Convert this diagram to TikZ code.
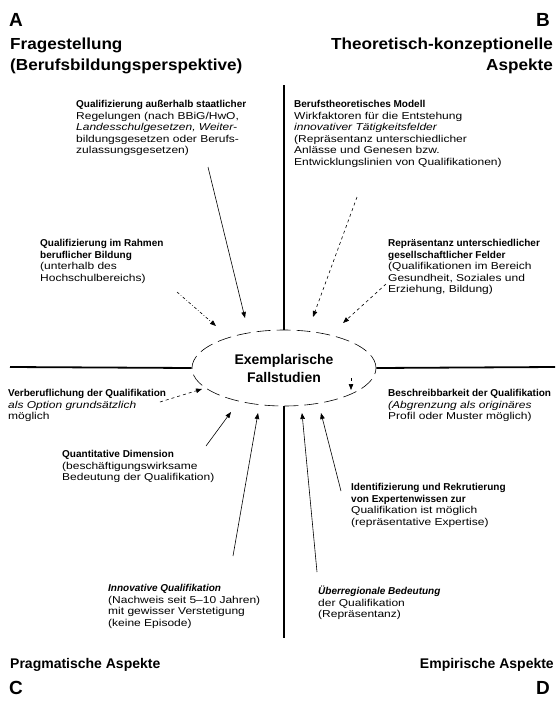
\documentclass[tikz,border=0pt]{standalone}
\usepackage{fontspec}
\setmainfont{Liberation Sans}
\newfontfamily\widefont{Liberation Sans}[FakeStretch=1.2, Ligatures=TeX]
\newfontfamily\headfont{Liberation Sans}[FakeStretch=1.07, Ligatures=TeX]
\newcommand{\boldline}[1]{{\normalfont\bfseries #1}}
\usetikzlibrary{shapes.geometric,arrows.meta}

\begin{document}
\begin{tikzpicture}[x=1pt, y=-1pt,
    corner/.style={font=\fontsize{19}{19}\selectfont\bfseries, inner sep=0},
    head/.style={font=\headfont\fontsize{16}{21}\selectfont\bfseries, inner sep=0},
    foot/.style={font=\fontsize{14}{14}\selectfont\bfseries, inner sep=0},
    txt/.style={font=\widefont\fontsize{10}{11.6}\selectfont, align=left, inner sep=0, anchor=north west},
    axis/.style={line width=1.8pt},
    arr/.style={-{Triangle[length=6pt, width=4.5pt]}, line width=0.6pt}]

    \useasboundingbox (0, 0) rectangle (558, 702);

    \node[corner, anchor=west] (ca) at (9, 20) {A};
    \node[corner, anchor=east] (cb) at (550, 20) {B};
    \node[corner, anchor=west] (cc) at (9, 688) {C};
    \node[corner, anchor=east] (cd) at (550, 688) {D};

    \node[head, anchor=north west, align=left] (ha) at (10, 38) {Fragestellung\\(Berufsbildungsperspektive)};
    \node[head, anchor=north east, align=right] (hb) at (553, 38) {Theoretisch-konzeptionelle\\Aspekte};
    \node[foot, anchor=west] (hc) at (10, 665) {Pragmatische Aspekte};
    \node[foot, anchor=east] (hd) at (554, 665) {Empirische Aspekte};

    \node[ellipse, draw, dash pattern=on 14pt off 6pt, line width=0.6pt, minimum width=184, minimum height=76,
        align=center, font=\fontsize{14}{18}\selectfont\bfseries] (fall) at (284, 368) {Exemplarische\\Fallstudien};

    \coordinate (top) at (284, 85);
    \coordinate (bottom) at (284, 638);
    \coordinate (left) at (10, 367);
    \coordinate (right) at (555, 367);

    \draw[axis] (top) -- (fall.north);
    \draw[axis] (fall.south) -- (bottom);
    \draw[axis] (left) -- (fall.west);
    \draw[axis] (fall.east) -- (right);

    \node[txt] (qa) at (76, 100) {\boldline{Qualifizierung außerhalb staatlicher}\\Regelungen (nach BBiG/HwO,\\\textit{Landesschulgesetzen, Weiter-}\\bildungsgesetzen oder Berufs-\\zulassungsgesetzen)};
    \node[txt] (qb) at (40, 239) {\boldline{Qualifizierung im Rahmen}\\\boldline{beruflicher Bildung}\\(unterhalb des\\Hochschulbereichs)};
    \node[txt] (qc) at (8, 389) {\boldline{Verberuflichung der Qualifikation}\\\textit{als Option grundsätzlich}\\möglich};
    \node[txt] (qd) at (62, 450) {\boldline{Quantitative Dimension}\\(beschäftigungswirksame\\Bedeutung der Qualifikation)};
    \node[txt] (qe) at (108, 584) {\boldline{\itshape Innovative Qualifikation}\\(Nachweis seit 5–10 Jahren)\\mit gewisser Verstetigung\\(keine Episode)};
    \node[txt] (qf) at (294, 100) {\boldline{Berufstheoretisches Modell}\\Wirkfaktoren für die Entstehung\\\textit{innovativer Tätigkeitsfelder}\\(Repräsentanz unterschiedlicher\\Anlässe und Genesen bzw.\\Entwicklungslinien von Qualifikationen)};
    \node[txt] (qg) at (388, 239) {\boldline{Repräsentanz unterschiedlicher}\\\boldline{gesellschaftlicher Felder}\\(Qualifikationen im Bereich\\Gesundheit, Soziales und\\Erziehung, Bildung)};
    \node[txt] (qh) at (388, 389) {\boldline{Beschreibbarkeit der Qualifikation}\\\textit{(Abgrenzung als originäres}\\Profil oder Muster möglich)};
    \node[txt] (qi) at (351, 483) {\boldline{Identifizierung und Rekrutierung}\\\boldline{von Expertenwissen zur}\\Qualifikation ist möglich\\(repräsentative Expertise)};
    \node[txt] (qj) at (318, 586) {\boldline{\itshape Überregionale Bedeutung}\\der Qualifikation\\(Repräsentanz)};

    \coordinate (qa-out) at (208, 167);
    \coordinate (qa-in) at (245, 318);
    \coordinate (qb-out) at (177, 292);
    \coordinate (qb-in) at (216, 326);
    \coordinate (qc-out) at (160, 402);
    \coordinate (qc-in) at (202, 389);
    \coordinate (qd-out) at (206, 446);
    \coordinate (qd-in) at (231, 412);
    \coordinate (qe-out) at (233, 556);
    \coordinate (qe-in) at (258, 413);
    \coordinate (qf-out) at (357, 197);
    \coordinate (qf-in) at (313, 317);
    \coordinate (qg-out) at (386, 284);
    \coordinate (qg-in) at (343, 323);
    \coordinate (qh-out) at (351, 378);
    \coordinate (qh-in) at (351, 390);
    \coordinate (qi-out) at (341, 491);
    \coordinate (qi-in) at (321, 413);
    \coordinate (qj-out) at (317, 572);
    \coordinate (qj-in) at (302, 413);

    \draw[arr] (qa-out) -- (qa-in);
    \draw[arr, dash dot] (qb-out) -- (qb-in);
    \draw[arr, dashed] (qc-out) -- (qc-in);
    \draw[arr] (qd-out) -- (qd-in);
    \draw[arr] (qe-out) -- (qe-in);
    \draw[arr, dashed] (qf-out) -- (qf-in);
    \draw[arr, dashed] (qg-out) -- (qg-in);
    \draw[arr, dashed] (qh-out) -- (qh-in);
    \draw[arr] (qi-out) -- (qi-in);
    \draw[arr] (qj-out) -- (qj-in);

\end{tikzpicture}
\end{document}
